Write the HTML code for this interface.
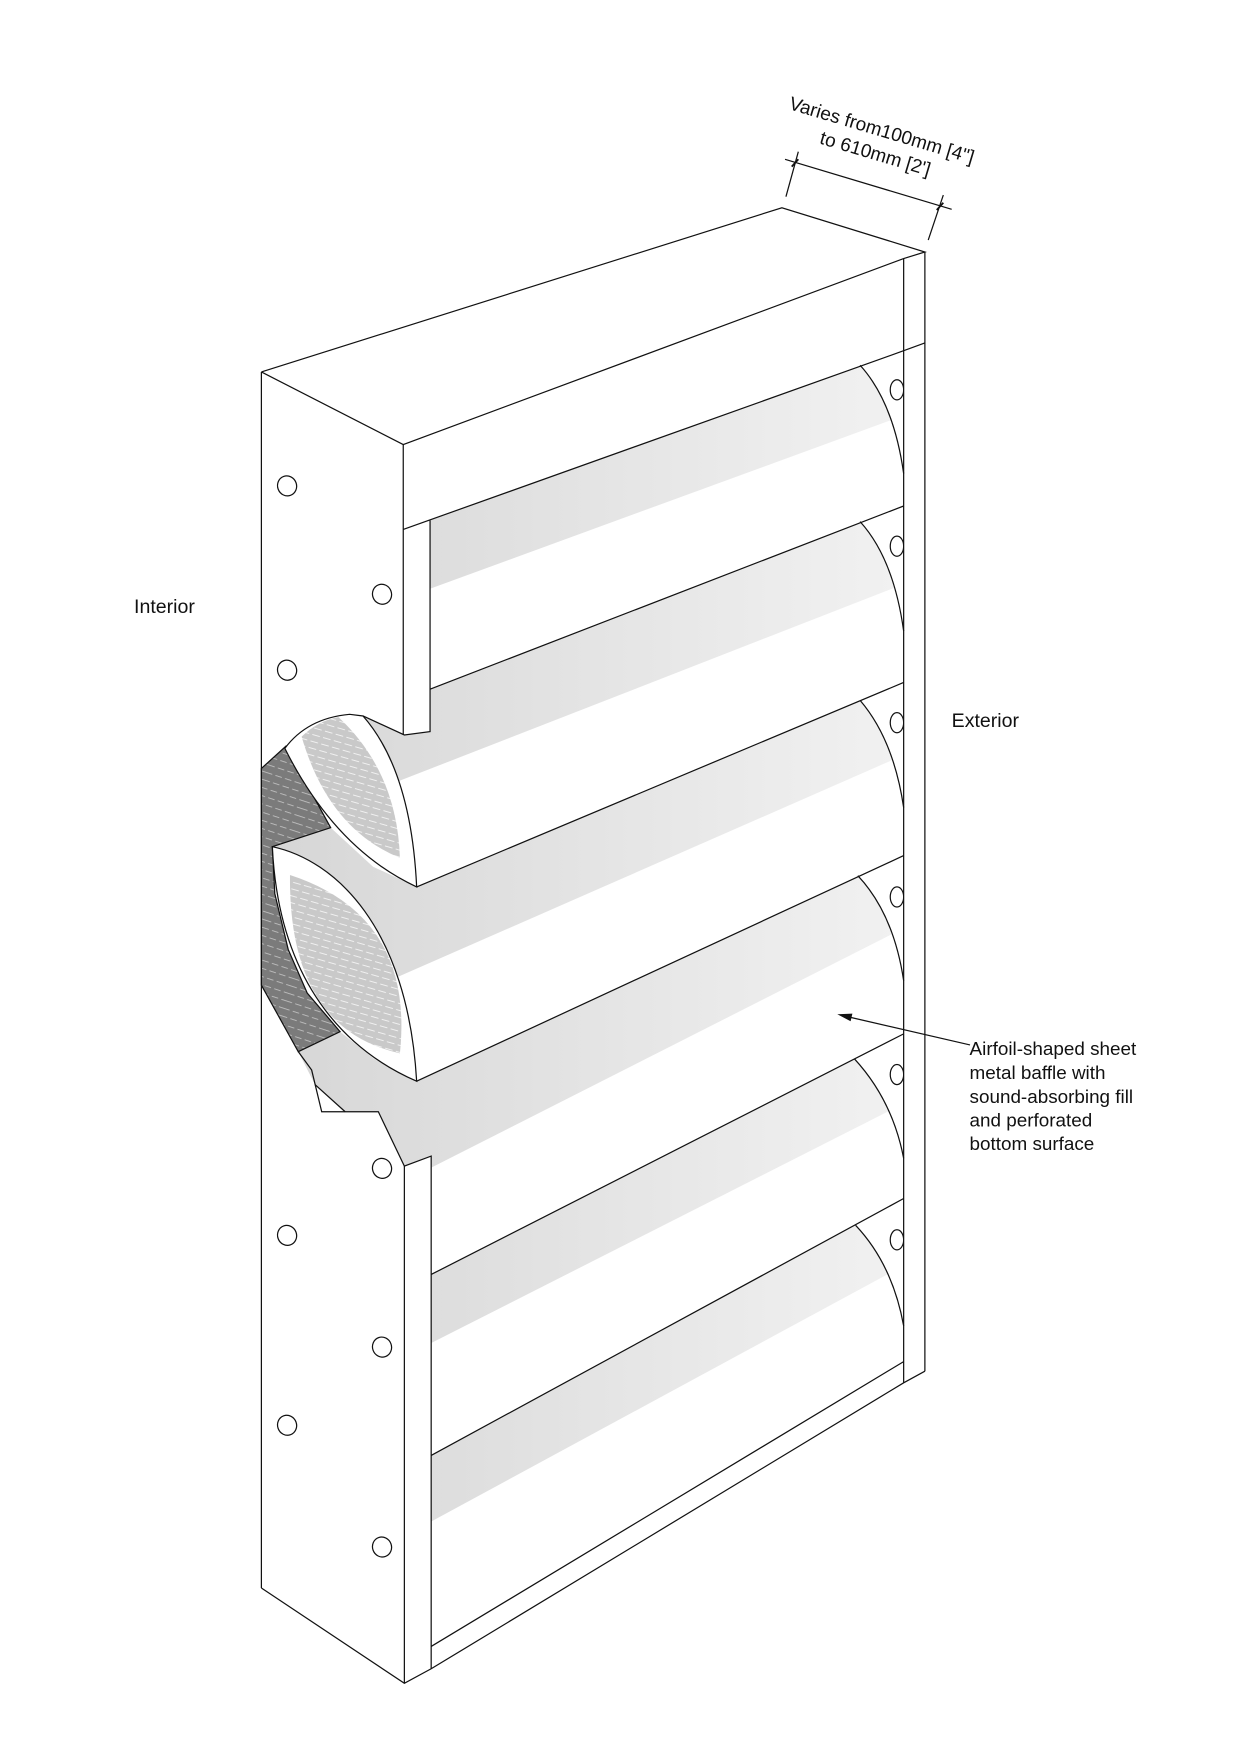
<!DOCTYPE html>
<html><head><meta charset="utf-8"><style>
html,body{margin:0;padding:0;background:#fff;}
svg{display:block;}
text{font-family:"Liberation Sans",Arial,sans-serif;fill:#111;}
</style></head><body>
<svg width="1240" height="1755" viewBox="0 0 1110.1 1571.2" xmlns="http://www.w3.org/2000/svg">
<defs>
<linearGradient id="g" gradientUnits="userSpaceOnUse" x1="240" y1="0" x2="800" y2="0">
<stop offset="0" stop-color="#d6d6d6"/><stop offset="1" stop-color="#f1f1f1"/></linearGradient>
<pattern id="hl" width="40" height="6" patternUnits="userSpaceOnUse" patternTransform="rotate(16)">
<rect width="40" height="6" fill="#c9c9c9"/><line x1="0" y1="3" x2="40" y2="3" stroke="#fff" stroke-width="0.6" stroke-dasharray="7 3"/></pattern>
<pattern id="hd" width="40" height="7" patternUnits="userSpaceOnUse" patternTransform="rotate(18)">
<rect width="40" height="7" fill="#7b7b7b"/><line x1="0" y1="3" x2="40" y2="3" stroke="#ddd" stroke-width="0.5" stroke-dasharray="6 3"/></pattern>
<clipPath id="c0"><polygon points="385,466 809,314 809,453 385,617"/></clipPath>
<clipPath id="c1"><path d="M325,641 L362,658 L385,655 L385,617 L809,453 L809,611 L373,794 Q368,690 325,641 Z"/></clipPath>
<clipPath id="c2"><path d="M243.8,758 L296,741 L334,776 L373,794 L809,611 L809,766 L373,968 C365,830 300,770 243.8,758 Z"/></clipPath>
<clipPath id="c3"><path d="M373,968 L809,766 L809,925.6 L386,1141 L386,1035 L362,1044 L338.7,995.3 L309,995.3 L282,971 L267,941.5 L304.4,923.6 L335,948 Z"/></clipPath>
<clipPath id="c4"><polygon points="386,1141 809,925.6 809,1073 386,1303"/></clipPath>
<clipPath id="c5"><polygon points="386,1303 809,1073 809,1219 386,1474"/></clipPath>
<clipPath id="ch"><rect x="700" y="200" width="109" height="1100"/></clipPath>
</defs>
<rect width="1110.1" height="1571.2" fill="#fff"/>

<g clip-path="url(#c0)"><polygon points="150,555 809,14 809,372 150,613" fill="url(#g)"/></g>
<g clip-path="url(#c1)"><polygon points="150,410 809,153 809,523 150,780" fill="url(#g)"/></g>
<g clip-path="url(#c2)"><polygon points="150,600 809,311 809,676 150,965" fill="url(#g)"/></g>
<g clip-path="url(#c3)"><polygon points="150,800 809,466 809,831 150,1165" fill="url(#g)"/></g>
<g clip-path="url(#c4)"><polygon points="150,960 809,626 809,988 150,1322" fill="url(#g)"/></g>
<g clip-path="url(#c5)"><polygon points="150,1130 809,773 809,1133 150,1490" fill="url(#g)"/></g>

<g fill="#fff" stroke="#111" stroke-width="1.1">
<path d="M770,327 Q800,360 809,424 L809,314 Z" stroke="none"/><path d="M770,327 Q800,360 809,424" fill="none"/>
<path d="M770,467 Q800,500 809,565 L809,453 Z" stroke="none"/><path d="M770,467 Q800,500 809,565" fill="none"/>
<path d="M770,627 Q800,662 809,723 L809,611 Z" stroke="none"/><path d="M770,627 Q800,662 809,723" fill="none"/>
<path d="M768,784 Q800,818 809,878 L809,766 Z" stroke="none"/><path d="M768,784 Q800,818 809,878" fill="none"/>
<path d="M765,948 Q799,985 809,1037 L809,925.6 Z" stroke="none"/><path d="M765,948 Q799,985 809,1037" fill="none"/>
<path d="M766,1097 Q799,1132 809,1187 L809,1073 Z" stroke="none"/><path d="M766,1097 Q799,1132 809,1187" fill="none"/>
</g>
<g clip-path="url(#ch)" fill="#fff" stroke="#111" stroke-width="1.1">
<ellipse cx="803" cy="349" rx="6" ry="9"/><ellipse cx="803" cy="489" rx="6" ry="9"/>
<ellipse cx="803" cy="647" rx="6" ry="9"/><ellipse cx="803" cy="803" rx="6" ry="9"/>
<ellipse cx="803" cy="962" rx="6" ry="9"/><ellipse cx="803" cy="1110" rx="6" ry="9"/>
</g>

<polygon points="234,688 256,668 296,741 243.8,758 246,800 258,850 275,889 304.4,923.6 267,941.5 234,882" fill="url(#hd)" stroke="#111" stroke-width="1.1"/>
<path d="M255,670 Q275,643 313,639.5 L325,641 Q368,690 373,794 Q300,760 255,670 Z" fill="#fff" stroke="#111" stroke-width="1.1"/>
<path d="M270,659.5 Q285,645 303,642 Q355.5,691 358,768 Q294,742 270,659.5 Z" fill="url(#hl)"/>
<path d="M243.8,758 C300,770 365,830 373,968 C320,945 250,890 243.8,758 Z" fill="#fff" stroke="#111" stroke-width="1.1"/>
<path d="M259.6,783.4 Q371,819.8 358,943 Q258.2,920.8 259.6,783.4 Z" fill="url(#hl)"/>

<g fill="none" stroke="#111" stroke-width="1.1">
<polyline points="325,641 362,658 385,655 385,466"/>
<line x1="361" y1="398" x2="361" y2="658"/>
<line x1="361" y1="474" x2="809" y2="314"/>
<line x1="385" y1="617" x2="809" y2="453"/>
<line x1="373" y1="794" x2="809" y2="611"/>
<line x1="373" y1="968" x2="809" y2="766"/>
<line x1="386" y1="1141" x2="809" y2="925.6"/>
<line x1="386" y1="1303" x2="809" y2="1073"/>
<line x1="386" y1="1474" x2="809" y2="1219"/>
<polyline points="267,941.5 279,958 288,995.3 338.7,995.3 362,1044 386,1035 386,1494"/>
<line x1="282" y1="971" x2="309" y2="995.3"/>
<line x1="362" y1="1044" x2="362" y2="1507"/>
<line x1="234" y1="333" x2="234" y2="1421.7"/>
<polyline points="234,1421.7 362,1507 386,1494 809,1238 828,1227.6"/>
<polyline points="234,333 700,186 828,225.6 809,231.5 361,398 234,333"/>
<line x1="828" y1="225.6" x2="828" y2="1227.6"/>
<line x1="809" y1="231.5" x2="809" y2="1238"/>
<line x1="809" y1="314" x2="828" y2="307"/>
<line x1="702.8" y1="142.6" x2="852" y2="187.4"/>
<line x1="714.7" y1="135.8" x2="703.6" y2="176.1"/>
<line x1="844.5" y1="174.6" x2="831" y2="214.9"/>
<line x1="708.8" y1="149.2" x2="714.7" y2="142.6" stroke-width="1.6"/>
<line x1="838.6" y1="188" x2="844.5" y2="181.5" stroke-width="1.6"/>
<line x1="868.4" y1="935.5" x2="760" y2="910.5"/>
</g>
<polygon points="749.6,908 761.5,914.3 763.1,907.5" fill="#111"/>

<g fill="#fff" stroke="#111" stroke-width="1.1">
<ellipse cx="257" cy="435" rx="8.5" ry="9" transform="rotate(-20 257 435)"/>
<ellipse cx="342" cy="532" rx="8.5" ry="9" transform="rotate(-20 342 532)"/>
<ellipse cx="257" cy="600" rx="8.5" ry="9" transform="rotate(-20 257 600)"/>
<ellipse cx="342" cy="1046" rx="8.5" ry="9" transform="rotate(-20 342 1046)"/>
<ellipse cx="257" cy="1106" rx="8.5" ry="9" transform="rotate(-20 257 1106)"/>
<ellipse cx="342" cy="1206" rx="8.5" ry="9" transform="rotate(-20 342 1206)"/>
<ellipse cx="257" cy="1276" rx="8.5" ry="9" transform="rotate(-20 257 1276)"/>
<ellipse cx="342" cy="1385" rx="8.5" ry="9" transform="rotate(-20 342 1385)"/>
</g>

<text x="120" y="549" font-size="17.5">Interior</text>
<text x="852" y="651" font-size="17.5">Exterior</text>
<g font-size="16.9">
<text x="868" y="944.5">Airfoil-shaped sheet</text>
<text x="868" y="966">metal baffle with</text>
<text x="868" y="987.5">sound-absorbing fill</text>
<text x="868" y="1008.5">and perforated</text>
<text x="868" y="1029.5">bottom surface</text>
</g>
<text font-size="17" transform="translate(705.5,97.5) rotate(16.6)">Varies from100mm [4"]</text>
<text font-size="17" transform="translate(733,128.3) rotate(16.6)">to 610mm [2']</text>
</svg>
</body></html>
